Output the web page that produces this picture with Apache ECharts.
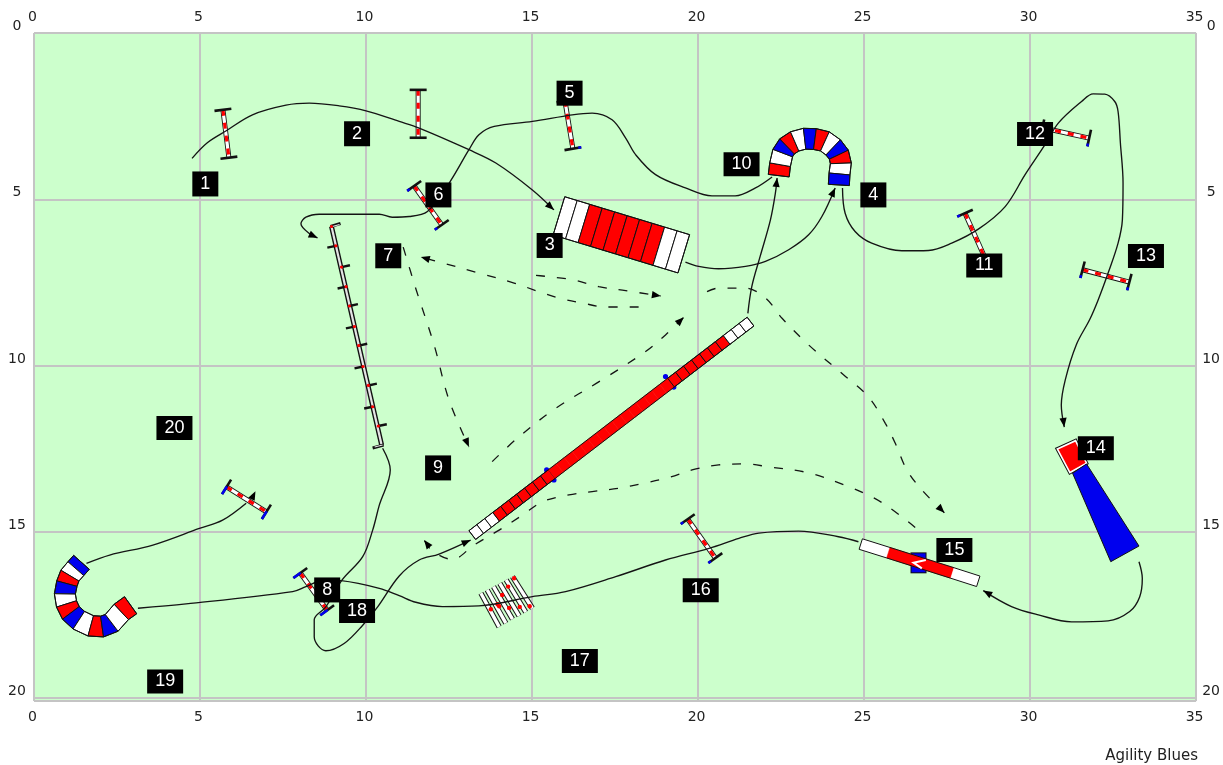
<!DOCTYPE html>
<html><head><meta charset="utf-8">
<style>html,body{margin:0;padding:0;background:#fff}#c{width:1223px;height:765px}</style>
<script src="https://cdn.jsdelivr.net/npm/echarts@6/dist/echarts.min.js"></script>
</head><body><div id="c"></div>
<script>
// ---- data (course units) ----
const tickLabels = [0,5,10,15,20,25,30,35];
const numberText = ['1','2','3','4','5','6','7','8','9','10','11','12','13','14','15','16','17','18','19','20'];
const numberX = [5.16,9.73,15.53,25.28,16.13,12.18,10.67,8.83,12.17,21.31,28.62,30.15,33.49,31.98,27.72,20.08,16.44,9.73,3.95,4.23];
const numberY = [4.54,3.03,6.39,4.87,1.81,4.87,6.70,16.75,13.08,3.95,6.99,3.04,6.71,12.49,15.55,16.76,18.89,17.38,19.50,11.88];

const jumpStarts = [[5.69,2.31],[11.57,1.71],[15.99,2.04],[11.45,4.60],[28.04,5.42],[30.37,2.85],[31.58,7.12],[19.69,14.62],[5.80,13.65],[8.02,16.24]];
const jumpEnds   = [[5.87,3.75],[11.57,3.15],[16.23,3.48],[12.28,5.77],[28.68,6.85],[31.78,3.16],[32.99,7.49],[20.52,15.79],[7.00,14.40],[8.83,17.36]];

const tunnelA = [[22.43,4.29],[22.47,3.96],[22.55,3.61],[22.68,3.41],[22.91,3.26],[23.21,3.18],[23.52,3.19],[23.82,3.26],[24.07,3.44],[24.24,3.66],[24.30,3.92],[24.26,4.24],[24.24,4.57]];
const tunnelB = [[1.43,15.92],[1.26,16.11],[1.08,16.32],[0.99,16.56],[0.93,16.87],[0.98,17.17],[1.11,17.44],[1.35,17.66],[1.71,17.83],[2.05,17.85],[2.34,17.74],[2.63,17.41],[2.91,17.21]];
const chute = [[15.81,5.50],[19.57,6.64]];
const dogwalk = [[13.20,15.10],[21.58,8.68]];
const teeter = [[24.90,15.37],[25.73,15.63],[27.66,16.24],[28.44,16.49]];
const teeterPivot = [[26.64,15.62],[26.64,16.25]];
const teeterArrow = [[26.86,15.85],[26.49,15.93],[26.74,16.10]];
const dogwalkSupports = [[[15.44,13.14],[15.66,13.44]],[[19.02,10.33],[19.27,10.65]]];
const aFrameRed = [[30.82,12.51],[31.37,12.26],[31.70,12.94],[31.20,13.22]];
const aFrameBlue = [[31.28,13.24],[31.70,12.96],[33.28,15.43],[32.43,15.90]];

const weaveEnds = [[8.96,5.82],[10.47,12.39]];
const weavePoleX = [8.96,9.09,9.26,9.40,9.50,9.65,9.78,9.91,10.07,10.20,10.37];
const weavePoleY = [5.82,6.40,7.04,7.63,8.21,8.83,9.40,10.03,10.60,11.24,11.82];

const tableStarts = [[13.46,16.85],[13.65,16.75],[13.84,16.65],[14.03,16.55],[14.22,16.45],[14.41,16.35]];
const tableEnds   = [[14.01,17.86],[14.21,17.75],[14.41,17.63],[14.61,17.53],[14.81,17.42],[15.01,17.30]];
const tableMarks  = [[14.46,16.40],[14.28,16.65],[14.10,16.90],[13.96,17.18],[13.76,17.33],[14.93,17.24],[14.63,17.26],[14.31,17.29],[14.01,17.24]];

const path1 = [[4.76,3.77],[5.22,3.30],[5.79,2.94],[6.58,2.46],[7.59,2.17],[8.29,2.11],[9.19,2.19],[10.0,2.34],[11.0,2.66],[11.6,2.86],[13.10,3.51],[13.91,3.91],[15.01,4.72],[15.66,5.32]];
const path2 = [[19.62,6.89],[20.02,7.02],[20.62,7.09],[21.43,7.02],[22.03,6.87],[22.73,6.52],[23.33,6.07],[23.73,5.52],[24.13,4.66]];
const path3 = [[24.35,4.66],[24.43,5.42],[24.73,5.97],[25.23,6.32],[26.14,6.55],[26.94,6.54],[27.64,6.32],[28.44,5.90],[29.25,5.22],[29.85,4.26],[30.45,3.36],[30.85,2.71],[31.55,2.06],[31.90,1.83],[32.25,1.84],[32.55,2.06],[32.65,2.36],[32.72,3.31],[32.80,4.51],[32.78,5.62],[32.65,6.32],[32.35,7.22],[32.05,8.03],[31.80,8.61],[31.39,9.38],[31.06,10.43],[30.94,11.19],[31.03,11.85]];
const path4 = [[22.23,4.33],[21.73,4.66],[21.12,4.90],[20.42,4.90],[19.62,4.66],[18.72,4.26],[18.12,3.66],[17.82,3.16],[17.41,2.61],[16.81,2.41],[16.21,2.46],[15.01,2.66],[13.86,2.81],[13.40,3.06],[13.10,3.51],[12.50,4.52],[11.85,5.37],[11.30,5.52],[10.79,5.54],[10.40,5.45],[8.59,5.45],[8.19,5.54],[8.04,5.74],[8.34,6.07],[8.54,6.16]];
const path5 = [[21.50,8.43],[21.62,7.62],[21.87,6.72],[22.18,5.62],[22.33,4.81],[22.38,4.36]];
const path6 = [[33.28,15.90],[33.38,16.40],[33.30,16.96],[33.00,17.40],[32.35,17.68],[31.25,17.71],[30.25,17.50],[29.44,17.25],[28.59,16.77]];
const path7 = [[24.83,15.30],[24.23,15.15],[23.03,14.98],[21.83,15.04],[21.23,15.20],[20.33,15.50],[19.02,15.85],[17.52,16.35],[16.01,16.80],[15.01,16.95],[13.40,17.23],[12.30,17.25],[11.50,17.12],[11.0,16.92],[10.40,16.70],[9.25,16.47],[8.74,16.45],[8.19,16.65],[7.79,16.80],[4.58,17.17],[3.13,17.30]];
const path8 = [[10.50,12.49],[10.73,13.14],[10.40,14.20],[10.20,14.95],[9.90,15.75],[9.28,16.45],[8.79,17.26],[8.44,17.65],[8.44,18.16],[8.79,18.58],[9.34,18.36],[9.90,17.81],[10.35,17.26],[11.0,16.33],[11.60,15.85],[12.20,15.67],[13.15,15.25]];
const path9 = [[1.58,15.95],[2.28,15.70],[3.58,15.40],[4.98,14.90],[5.68,14.65],[6.39,14.14]];
const dash1 = [[11.12,6.44],[11.51,7.72],[12.05,9.38],[12.50,11.04],[13.10,12.45]];
const dash2 = [[18.21,8.24],[17.22,8.24],[16.51,8.12],[15.81,7.97],[15.21,7.78],[14.46,7.52],[13.40,7.22],[12.25,6.90],[11.65,6.74]];
const dash3 = [[15.12,7.29],[16.21,7.42],[17.01,7.63],[17.82,7.75],[18.88,7.91]];
const dash4 = [[13.80,12.89],[14.61,12.14],[15.71,11.29],[17.11,10.43],[18.42,9.58],[19.02,9.08],[19.57,8.55]];
const dash5 = [[20.27,7.78],[20.62,7.67],[21.43,7.67],[22.03,7.97],[22.53,8.58],[23.33,9.38],[24.38,10.28],[25.13,10.94],[25.64,11.74],[25.94,12.34],[26.29,13.14],[26.74,13.74],[27.42,14.43]];
const dash6 = [[26.54,14.87],[25.79,14.29],[25.23,13.95],[24.53,13.64],[23.33,13.23],[22.13,13.05],[21.43,12.96],[20.62,12.99],[19.82,13.14],[19.12,13.37],[18.37,13.54],[17.62,13.69],[16.81,13.79],[16.11,13.89],[15.31,14.10],[14.71,14.50],[14.01,14.95],[13.25,15.40],[12.60,15.83],[12.0,15.58],[11.75,15.25]];
const extraArrow = [[6.55,14.02],[6.67,13.78]];

// ---- styles ----
const RED='#ff0000', BLUE='#0000ee', WHITE='#ffffff', INK='#111111', GRID='#c4c4c4';
const AXFONT='"DejaVu Sans"';
const jumpBlue=[0,0,-3,3,3,3,3,3,9,9];
const weaveSides=[0,-1,1,-1,1,-1,1,-1,1,-1,1];
const plankStyle=[
 {path:tunnelA,width:21,colors:'RWBRWBRWBRWB'},
 {path:tunnelB,width:21,colors:'BWRBWRBWRBWR'},
 {path:chute,width:40,colors:'WWRRRRRRWW'},
 {path:dogwalk,width:11,colors:'WWWRRRRRRRrrrrrrrrrrrrrrrRRRRRRRWWW'},
];
const fillOf={r:RED,R:RED,w:WHITE,W:WHITE,B:BLUE};

// ---- helpers ----
const seg=(a,b,stroke,w,dash)=>{const st={stroke,lineWidth:w};if(dash)st.lineDash=dash;return {type:'line',shape:{x1:a[0],y1:a[1],x2:b[0],y2:b[1]},style:st};};
const poly=(points,fill,stroke,w)=>({type:'polygon',shape:{points},style:{fill,stroke:stroke||null,lineWidth:w||0}});
const dot=(p,r,fill)=>({type:'circle',shape:{cx:p[0],cy:p[1],r},style:{fill}});
const at=(api,p)=>api.coord([p[0],p[1]]);
function layer(items,anchor,draw,z){
  return {type:'custom',coordinateSystem:'cartesian2d',clip:false,silent:true,z:z,animation:false,
    encode:{x:0,y:1},data:items.map(anchor),
    renderItem:(params,api)=>({type:'group',children:draw(items[params.dataIndex],api,params.dataIndex)})};
}
function plankParts(path,width,colors,api){
  let pts=path.map(p=>at(api,p)); const n=colors.length;
  if(pts.length===2&&n>1){const a=pts[0],b=pts[1];pts=[];for(let i=0;i<=n;i++)pts.push([a[0]+(b[0]-a[0])*i/n,a[1]+(b[1]-a[1])*i/n]);}
  const L=[],R=[];
  pts.forEach((p,i)=>{const a=pts[Math.max(i-1,0)],b=pts[Math.min(i+1,pts.length-1)];
    const dx=b[0]-a[0],dy=b[1]-a[1],m=Math.hypot(dx,dy)||1,nx=-dy/m*width/2,ny=dx/m*width/2;
    L.push([p[0]+nx,p[1]+ny]);R.push([p[0]-nx,p[1]-ny]);});
  const out=[];
  for(let i=0;i<n;i++){const c=colors[i],plain=(c==='r'||c==='w');
    out.push(poly([L[i],L[i+1],R[i+1],R[i]],fillOf[c],plain?fillOf[c]:INK,plain?0.5:1));}
  out.push({type:'polygon',shape:{points:L.concat(R.slice().reverse())},style:{fill:null,stroke:INK,lineWidth:1}});
  return out;
}
function jumpParts(j,api,i){
  const a=at(api,jumpStarts[i]),b=at(api,jumpEnds[i]);
  const dx=b[0]-a[0],dy=b[1]-a[1],m=Math.hypot(dx,dy),nx=-dy/m,ny=dx/m,h=8.5;
  const cross=p=>seg([p[0]-nx*h,p[1]-ny*h],[p[0]+nx*h,p[1]+ny*h],INK,2.6);
  const parts=[seg(a,b,INK,5),seg(a,b,WHITE,3.2),seg(a,b,RED,3.2,[6,7]),cross(a),cross(b)];
  const v=jumpBlue[i];
  if(v){const s=Math.sign(v),l=Math.abs(v);
    [a,b].forEach(p=>parts.push(seg([p[0]+s*nx*(h-l),p[1]+s*ny*(h-l)],[p[0]+s*nx*h,p[1]+s*ny*h],BLUE,2.6)));}
  return parts;
}
function arrowParts(path,api){
  const t=at(api,path[path.length-1]),f=at(api,path[path.length-2]);
  const dx=t[0]-f[0],dy=t[1]-f[1],m=Math.hypot(dx,dy)||1,ux=dx/m,uy=dy/m,L=9,W=3.6;
  return [poly([t,[t[0]-ux*L-uy*W,t[1]-uy*L+ux*W],[t[0]-ux*L+uy*W,t[1]-uy*L-ux*W]],'#000')];
}

// ---- series ----
const solid=[path1,path2,path3,path4,path5,path6,path7,path8,path9];
const dashed=[dash1,dash2,dash3,dash4,dash5,dash6];
const lineSeries=(d,isDash)=>({type:'line',data:d,smooth:0.35,showSymbol:false,symbol:'none',silent:true,clip:false,z:5,animation:false,
  lineStyle:{color:'#141414',width:isDash?1.3:1.35,type:isDash?[9,12]:'solid'}});
const arrowPaths=[path1,path2,path3,path4,path5,path6,path8,dash1,dash2,dash3,dash4,dash5,dash6,extraArrow];

const series=[
  layer(dogwalkSupports,it=>it[0],(it,api)=>{const a=at(api,it[0]),b=at(api,it[1]);return [seg(a,b,INK,1.5),dot(a,2.6,BLUE),dot(b,2.6,BLUE)];},2),
  layer(plankStyle,it=>it.path[0],(it,api)=>plankParts(it.path,it.width,it.colors,api),3),
  layer(jumpStarts,it=>it,jumpParts,3),
  layer([teeterPivot],it=>it[0],(it,api)=>{const a=at(api,it[0]),b=at(api,it[1]);return [seg(a,b,INK,16),seg([a[0],a[1]+1],[b[0],b[1]-1],BLUE,14)];},2),
  layer([teeter],it=>it[0],(it,api)=>plankParts(it,11,'wrw',api).concat([
      {type:'polyline',shape:{points:teeterArrow.map(p=>at(api,p))},style:{stroke:WHITE,lineWidth:2,fill:null}}]),3),
  layer([aFrameRed],it=>it[0],(it,api)=>{const p=it.map(q=>at(api,q));return [poly(p,RED,INK,3.6),poly(p,RED,WHITE,1.6)];},3),
  layer([aFrameBlue],it=>it[0],(it,api)=>[poly(it.map(q=>at(api,q)),BLUE,INK,1)],3),
  layer([weaveEnds],it=>it[0],(it,api)=>{const a=at(api,it[0]),b=at(api,it[1]);
      const out=[seg(a,b,INK,5),seg(a,b,'#e4e4e4',2.2)];
      out.push(seg([a[0]-1,a[1]],[a[0]+9,a[1]-3],INK,3),seg([a[0]+1,a[1]],[a[0]+8,a[1]-2],'#e4e4e4',1.2));
      out.push(seg([b[0]-9,b[1]+3],[b[0]+2,b[1]],INK,3),seg([b[0]-7,b[1]+2],[b[0]+1,b[1]],'#e4e4e4',1.2));
      return out;},3),
  layer(weavePoleX,(x,i)=>[x,weavePoleY[i]],(x,api,i)=>{const p=api.coord([x,weavePoleY[i]]),s=weaveSides[i];
      const out=[];
      if(s)out.push(seg(p,[p[0]+s*8.5,p[1]-s*1.8],INK,2.4));
      out.push(dot(p,1.6,RED));
      return out;},4),
  layer(tableStarts,it=>it,(it,api,i)=>{const a=at(api,it),b=at(api,tableEnds[i]);return [seg(a,b,INK,5.4),seg(a,b,WHITE,3.4)];},3),
  layer(tableMarks,it=>it,(it,api)=>[dot(at(api,it),2.2,RED)],4),
  ...solid.map(d=>lineSeries(d,false)),
  ...dashed.map(d=>lineSeries(d,true)),
  layer(arrowPaths,it=>it[it.length-1],(it,api)=>arrowParts(it,api),6),
  {type:'scatter',silent:true,z:10,animation:false,clip:false,symbol:'rect',
    data:numberText.map((t,i)=>({value:[numberX[i],numberY[i]],name:t,symbolSize:t.length>1?[36,24]:[26,25]})),
    itemStyle:{color:'#000',opacity:1},
    label:{show:true,position:'inside',formatter:p=>p.name,color:'#fff',fontFamily:'"Liberation Sans"',fontSize:18,fontWeight:'normal'}}
];

const tickFmt=v=>tickLabels.includes(v)?String(v):'';
const xCommon=(position)=>({type:'value',position,min:0,max:35,interval:5,axisLine:{show:false},axisTick:{show:false},
  splitLine:{show:position==='bottom',lineStyle:{color:GRID,width:2}},
  axisLabel:{margin:9,formatter:tickFmt,padding:[0,3,0,0],color:'#222',fontFamily:AXFONT,fontSize:14}});
const yCommon=(position,margin)=>({type:'value',position,inverse:true,min:0,max:20.09,interval:5,axisLine:{show:false},axisTick:{show:false},
  splitLine:{show:position==='left',lineStyle:{color:GRID,width:2}},
  axisLabel:{margin,align:'center',verticalAlign:'bottom',lineHeight:13,formatter:tickFmt,color:'#222',fontFamily:AXFONT,fontSize:14}});

const chart=echarts.init(document.getElementById('c'),null,{renderer:'canvas'});
chart.setOption({
  animation:false,backgroundColor:'#fff',
  title:{text:'Agility Blues',right:25,top:749,padding:0,textStyle:{fontFamily:AXFONT,fontSize:15,fontWeight:'normal',color:'#222'}},
  grid:{left:34,right:25,top:33,bottom:64,show:true,backgroundColor:'#ccffcc',borderWidth:0},
  xAxis:[xCommon('bottom'),xCommon('top')],
  yAxis:[yCommon('left',17),yCommon('right',15)],
  series
});
</script></body></html>
